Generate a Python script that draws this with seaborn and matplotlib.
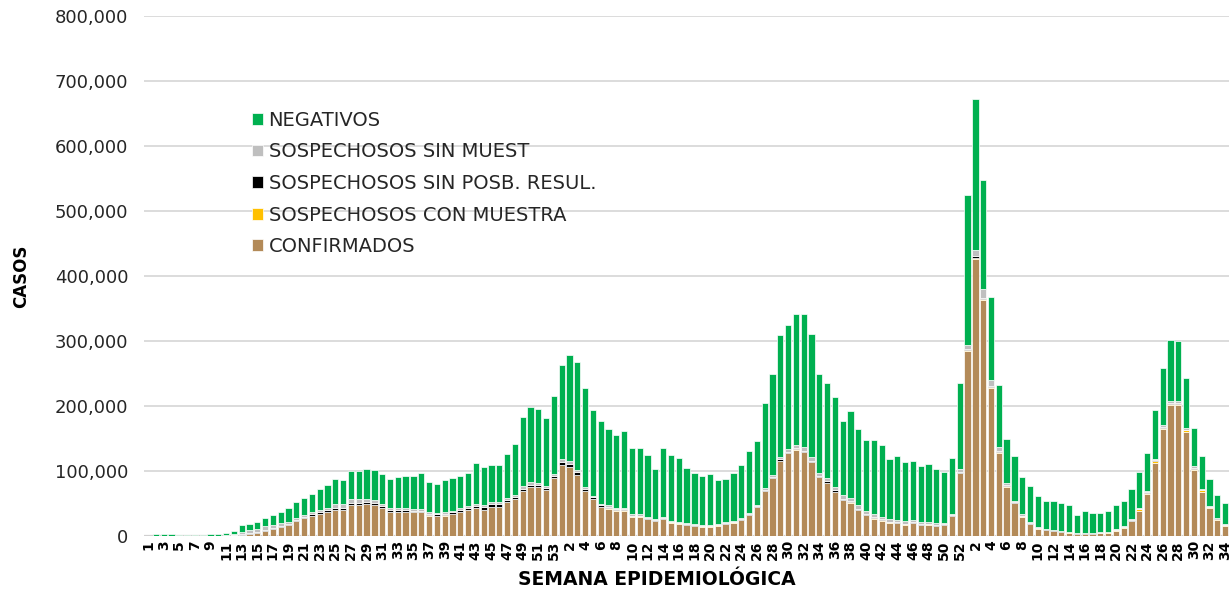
import numpy as np
import matplotlib
matplotlib.use("Agg")
import matplotlib.pyplot as plt
import seaborn as sns
from matplotlib.ticker import FuncFormatter

sns.set_theme(style="white")
plt.rcParams["font.family"] = ["DejaVu Sans"]

# Week labels per year (2020: 53 weeks, 2021: 52, 2022: up to 34)
weeks_2020 = list(range(1, 54))
weeks_2021 = list(range(1, 53))
weeks_2022 = list(range(1, 35))

# Values in thousands of cases
conf_2020 = [0, 0, 0, 0, 0, 0, 0, 0, 0.01, 0.05,
             0.3, 0.8, 1.5, 2.8, 4.0, 7.0, 10.0, 13.5, 16.5, 23.0,
             27.5, 31.0, 34.0, 37.0, 40.0, 40.0, 47.7, 47.7, 48.7, 47.5,
             42.6, 37.4, 37.4, 37.4, 36.5, 36.5, 31.5, 31.0, 31.5, 33.5,
             37.0, 40.0, 43.6, 40.0, 45.0, 45.0, 52.8, 57.0, 69.7, 76.0,
             75.0, 71.0, 89.0]
conf_2021 = [109, 106.5, 93.5, 69.2, 56.5, 45, 42.3, 39, 39, 29.7,
             29.7, 25.6, 23, 25.6, 20.5, 19, 16.4, 15.4, 14.4, 14.4,
             15.9, 18.5, 20.5, 24.6, 32.3, 44, 69.4, 88.7, 115.5, 127,
             133, 128.7, 113.8, 90, 82, 68, 55.4, 51.3, 40, 32.3,
             26.7, 23.6, 20.5, 19.5, 17.4, 19.5, 17, 17.4, 15.4, 16.4,
             30.8, 96.4]
conf_2022 = [285, 426, 363, 227, 127, 75, 50, 29.7, 18, 11,
             8.5, 7.2, 6.0, 5.0, 3.4, 2.8, 3.4, 3.9, 5.2, 8.3,
             12.8, 22.4, 39.2, 64.5, 112.5, 164, 201, 201, 160, 101.5,
             68, 42.5, 25, 16]

con_muestra_2020 = [0] * 10 + [0.1] * 43
con_muestra_2021 = [0.3] * 52
con_muestra_2022 = [1.0, 1.0, 1.0, 2.0, 2.0, 2.0, 1.5, 1.2, 0.8, 1.0,
                    1.2, 1.0, 0.8, 0.6, 0.4, 0.4, 0.4, 0.4, 0.5, 0.6,
                    0.8, 1.2, 1.8, 2.2, 2.5, 2.6, 2.8, 2.8, 2.6, 2.0,
                    2.0, 1.5, 1.2, 1.2]

sin_posb_2020 = [0] * 10 + [
    0.1, 0.3, 0.8, 1.2, 1.6, 1.8, 2.0, 2.2, 2.2, 2.0,
    2.0, 2.2, 2.5, 2.5, 2.6, 2.5, 3.0, 3.0, 3.0, 3.0,
    2.8, 2.6, 2.6, 2.5, 2.5, 2.5, 2.5, 2.5, 3.0, 3.0,
    2.8, 2.8, 3.0, 4.0, 3.5, 3.5, 3.0, 3.0, 3.0, 3.0,
    3.0, 3.0, 3.0]
sin_posb_2021 = [4.0, 4.0, 5.0, 3.0, 2.5, 2.0, 2.0, 1.5, 1.5, 1.5,
                 1.5, 1.5, 1.5, 1.2, 1.0, 1.0, 1.0, 1.0, 1.0, 1.0,
                 1.0, 1.0, 1.0, 1.0, 1.0, 1.2, 1.5, 2.0, 2.0, 2.0,
                 2.5, 2.5, 2.0, 2.0, 2.0, 1.8, 1.8, 1.8, 1.5, 1.5,
                 2.5, 1.5, 1.2, 1.2, 1.2, 1.5, 1.5, 1.5, 1.5, 1.2,
                 1.0, 2.0]
sin_posb_2022 = [2.0, 3.5, 2.5, 1.5, 1.0, 0.8, 0.5, 0.5, 1.2, 0.5,
                 0.3, 0.3, 0.3, 0.3, 0.3, 1.0, 0.3, 0.3, 0.3, 0.3,
                 0.3, 0.4, 0.4, 0.5, 1.5, 0.8, 0.8, 0.8, 0.8, 1.5,
                 0.5, 0.5, 1.2, 0.4]

sin_muestra_2020 = [0.05, 0.1, 0.1, 0.1, 0.1, 0.1, 0.1, 0.1, 0.2, 0.3,
                    0.6, 1.5, 4.2, 4.5, 5.2, 6.5, 5.0, 4.0, 3.5, 3.0,
                    2.5, 3.0, 3.0, 4.0, 6.0, 7.0, 6.5, 6.5, 5.0, 5.0,
                    4.0, 3.5, 3.5, 3.0, 3.0, 3.0, 2.8, 2.5, 2.5, 2.5,
                    2.5, 2.5, 3.0, 3.0, 3.0, 3.0, 3.0, 3.0, 4.0, 4.0,
                    4.0, 3.5, 3.5]
sin_muestra_2021 = [4.5, 5.0, 3.5, 3.5, 3.0, 2.5, 2.5, 2.0, 2.0, 2.0,
                    2.0, 2.0, 2.0, 2.0, 2.0, 1.8, 1.8, 1.5, 1.5, 1.5,
                    1.5, 1.5, 1.5, 2.0, 2.5, 2.5, 3.0, 3.5, 4.0, 4.5,
                    4.5, 5.0, 5.0, 4.5, 5.0, 5.0, 5.0, 5.5, 5.5, 5.0,
                    5.0, 4.0, 3.5, 3.5, 3.5, 3.0, 3.0, 3.0, 3.0, 2.5,
                    2.5, 4.0]
sin_muestra_2022 = [5.5, 9.5, 13, 9.5, 7.0, 3.5, 2.5, 2.0, 1.5, 1.2,
                    1.0, 1.0, 0.9, 0.8, 0.7, 0.7, 0.7, 0.8, 0.8, 1.0,
                    1.2, 1.5, 1.8, 2.0, 2.5, 2.8, 3.0, 3.0, 2.5, 2.0,
                    1.5, 1.2, 1.0, 0.8]

neg_2020 = [0.3, 2.4, 3.2, 3.2, 2.0, 2.0, 2.0, 2.0, 2.5, 2.4,
            2.8, 5.4, 9.9, 10.0, 10.2, 12.4, 15.0, 17.3, 21.4, 24.8,
            26.0, 27.8, 33.3, 34.4, 39.4, 37.2, 43.3, 43.3, 45.9, 46.0,
            45.5, 43.7, 47.3, 48.9, 50.8, 55.4, 46.8, 43.5, 49.2, 50.7,
            50.0, 51.1, 62.2, 58.6, 57.2, 57.2, 67.2, 78.0, 106.3, 115.0,
            113.0, 104.5, 120.5]
neg_2021 = [145.5, 163, 165.7, 151, 132, 127.5, 118.2, 112.5, 119, 101.8,
            101.8, 95.5, 76.1, 106.2, 100.1, 97.2, 84.8, 78.1, 74.9, 78.1,
            67.6, 66.7, 73, 81.1, 93.9, 98.3, 129.7, 154.8, 187.2, 191.1,
            201.5, 204.3, 189.2, 152.5, 146, 139, 114.8, 133.4, 117.6, 108.9,
            113.5, 109.9, 92.8, 98.8, 90.9, 91, 86.5, 88.9, 83.1, 77.3,
            84.7, 132.6]
neg_2022 = [231.1, 231.8, 168.5, 127, 95, 67.4, 69.1, 57.9, 55.5, 47.3,
            42.8, 44.3, 43.3, 40.3, 27.5, 34.1, 31.2, 30.6, 31.2, 36.8,
            38.7, 46.3, 55.8, 57.8, 74.8, 87.8, 93.9, 92.4, 77.7, 58.6,
            51, 41.3, 34.6, 32.9]

weeks = weeks_2020 + weeks_2021 + weeks_2022
layers = [
    ("CONFIRMADOS", conf_2020 + conf_2021 + conf_2022, "#B38A58"),
    ("SOSPECHOSOS CON MUESTRA", con_muestra_2020 + con_muestra_2021 + con_muestra_2022, "#FFC000"),
    ("SOSPECHOSOS SIN POSB. RESUL.", sin_posb_2020 + sin_posb_2021 + sin_posb_2022, "#000000"),
    ("SOSPECHOSOS SIN MUEST", sin_muestra_2020 + sin_muestra_2021 + sin_muestra_2022, "#BFBFBF"),
    ("NEGATIVOS", neg_2020 + neg_2021 + neg_2022, "#00B050"),
]

fig = plt.figure(figsize=(12.32, 5.92), dpi=100)
ax = fig.add_axes([0.117, 0.0946, 0.8806, 0.8784])

x = np.arange(len(weeks))
bottom = np.zeros(len(weeks))
handles = {}
for name, vals, color in layers:
    vals = np.array(vals, dtype=float)
    b = ax.bar(x, vals, bottom=bottom, width=0.8, color=color,
               edgecolor="white", linewidth=0.5, label=name, zorder=3)
    handles[name] = b
    bottom += vals

ax.set_xlim(-0.5, len(weeks) - 0.5)
ax.set_ylim(0, 800)
ax.set_yticks(np.arange(0, 801, 100))
ax.yaxis.set_major_formatter(FuncFormatter(lambda v, p: f"{v * 1000:,.0f}"))
ax.grid(axis="y", color="#D9D9D9", linewidth=1.3, zorder=0)
ax.grid(axis="x", visible=False)
for s in ax.spines.values():
    s.set_visible(False)
ax.axhline(0, color="#D0D0D0", linewidth=1.6, zorder=2)

ax.set_xticks(x[::2])
ax.set_xticklabels([str(w) for w in weeks[::2]], rotation=90,
                   fontsize=10, fontweight="bold", color="black")
ax.tick_params(axis="x", length=0, pad=3)
ax.tick_params(axis="y", length=0, pad=11.5, labelsize=13, labelcolor="#262626")

ax.set_ylabel("CASOS", fontsize=12, fontweight="bold", color="black")
ax.yaxis.set_label_coords(-0.105, 0.5)
ax.set_xlabel("SEMANA EPIDEMIOLÓGICA", fontsize=13.5, fontweight="bold", color="black")
ax.xaxis.set_label_coords(0.473, -0.066)

order = ["NEGATIVOS", "SOSPECHOSOS SIN MUEST", "SOSPECHOSOS SIN POSB. RESUL.",
         "SOSPECHOSOS CON MUESTRA", "CONFIRMADOS"]
leg = ax.legend([handles[n] for n in order], order, loc="upper left",
                bbox_to_anchor=(0.0995, 0.818), frameon=False, fontsize=14,
                handlelength=0.55, handleheight=0.55, handletextpad=0.3,
                labelspacing=0.65, borderaxespad=0, borderpad=0)
for t in leg.get_texts():
    t.set_color("#262626")

fig.savefig("out.png", dpi=100)
